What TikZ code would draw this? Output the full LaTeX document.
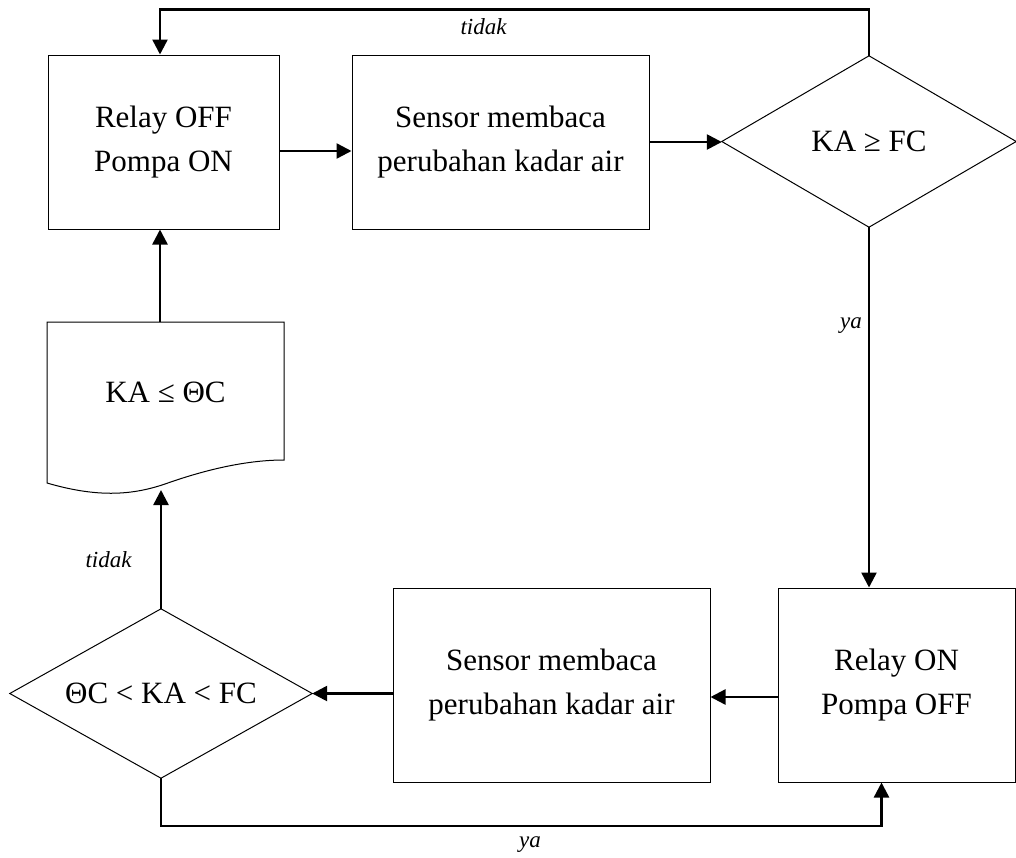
\documentclass[tikz,border=0pt]{standalone}
\usepackage{fontspec}
\setmainfont{Liberation Serif}
\usetikzlibrary{arrows.meta,calc}
\newcommand\mainfs{\fontsize{31}{44}\selectfont}
\newcommand\lblfs{\fontsize{23}{28}\selectfont\itshape}
\begin{document}
\begin{tikzpicture}[x=1pt,y=-1pt,
  box/.style={draw, line width=1pt, inner sep=0pt, align=center, font=\mainfs},
  dia/.style={inner sep=0pt, align=center, font=\mainfs},
  diaedge/.style={line width=1pt, line join=miter},
  conn/.style={line width=2.5pt, -{Triangle[length=15pt,width=15pt]}},
  lbl/.style={font=\lblfs, inner sep=0pt}]
\useasboundingbox (0,0) rectangle (1016,857);

% top row
\node[box, minimum width=231pt, minimum height=174pt] (b1) at (163.5,142) {Relay OFF\\Pompa ON};
\node[box, minimum width=297pt, minimum height=174pt] (b2) at (500.5,142) {Sensor membaca\\perubahan kadar air};
\node[dia, minimum width=294pt, minimum height=171pt] (d1) at (869,141.5) {KA ≥ FC};
\draw[diaedge] (d1.west) -- (d1.north) -- (d1.east) -- (d1.south) -- cycle;

% bottom row
\node[box, minimum width=237pt, minimum height=194pt] (b4) at (896.5,685) {Relay ON\\Pompa OFF};
\node[box, minimum width=317pt, minimum height=194pt] (b3) at (551.5,685) {Sensor membaca\\perubahan kadar air};
\node[dia, minimum width=302pt, minimum height=169pt] (d2) at (161,693.5) {ΘC < KA < FC};
\draw[diaedge] (d2.west) -- (d2.north) -- (d2.east) -- (d2.south) -- cycle;

% document shape
\draw[line width=1pt] (47,322) -- (284,322) -- (284,460)
  .. controls (250,460) and (210,468) .. (165,484)
  .. controls (130,496) and (95,497) .. (47,483) -- cycle;
\node[dia] (doc) at (165.5,392) {KA ≤ ΘC};

% coordinates for connector bends
\coordinate (tl) at (160,9.5);
\coordinate (tr) at (d1.north |- tl);
\coordinate (bl) at (161,826);
\coordinate (docb) at (161,490);
\coordinate (doct) at (160,322);

% connectors
\draw[conn] (d1.north) -- (tr) -- (tl) -- (tl |- b1.north);
\draw[conn] ([yshift=-9pt]b1.east) -- ([yshift=-9pt]b2.west);
\draw[conn] (b2.east) -- (b2.east -| d1.west);
\draw[conn] (d1.south) -- (d1.south |- b4.north);
\draw[conn] ([yshift=-12pt]b4.west) -- ([yshift=-12pt]b4.west -| b3.east);
\draw[conn] (b3.west |- d2.east) -- (d2.east);
\draw[conn] (d2.south) -- (bl) -| ([xshift=-15pt]b4.south);
\draw[conn] (d2.north) -- (docb);
\draw[conn] (doct) -- (doct |- b1.south);

% labels
\node[lbl] (l1) at (483.5,27) {tidak};
\node[lbl] (l2) at (851,326) {ya};
\node[lbl] (l3) at (108.5,560) {tidak};
\node[lbl] (l4) at (530,845) {ya};
\end{tikzpicture}
\end{document}
